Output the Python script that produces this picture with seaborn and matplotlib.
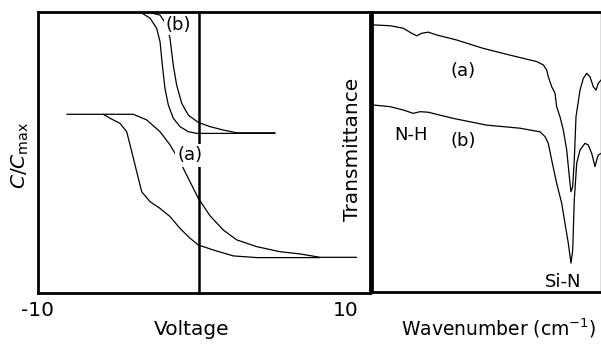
import matplotlib
matplotlib.use("Agg")
import matplotlib.pyplot as plt
import seaborn as sns
import pandas as pd

# ---- C-V curves (left panel) ----
b1_v = [-3.36, -2.71, -2.28, -2.06, -1.91, -1.74, -1.52, -1.20, -0.76, -0.22, 0.33, 5.42]
b1_c = [1.0, 0.978, 0.942, 0.894, 0.811, 0.728, 0.669, 0.622, 0.592, 0.574, 0.568, 0.568]
b2_v = [-2.93, -2.06, -1.63, -1.41, -1.20, -0.98, -0.65, -0.22, 0.43, 1.19, 2.06, 2.93, 5.42]
b2_c = [1.0, 0.989, 0.954, 0.906, 0.811, 0.740, 0.675, 0.633, 0.607, 0.592, 0.580, 0.570, 0.570]
a1_v = [-8.13, -3.80, -2.93, -2.06, -1.41, -0.76, -0.11, 0.43, 1.19, 2.06, 2.93, 4.23,
        5.74, 7.05, 8.35, 10.73]
a1_c = [0.636, 0.636, 0.616, 0.574, 0.527, 0.467, 0.396, 0.337, 0.275, 0.224, 0.189, 0.165,
        0.147, 0.139, 0.127, 0.127]
a2_v = [-5.75, -5.32, -4.67, -4.23, -3.90, -3.58, -3.25, -2.71, -2.06, -1.41, -0.76, -0.11,
        0.43, 1.41, 2.71, 4.23, 8.35]
a2_c = [0.636, 0.622, 0.604, 0.574, 0.503, 0.432, 0.360, 0.325, 0.301, 0.272, 0.230, 0.195,
        0.171, 0.153, 0.132, 0.126, 0.126]
volt_ticks = [-10, 10]
volt_tick_labels = ["-10", "10"]

# ---- IR spectra (right panel) ----
ira_wn = [3992, 3717, 3508, 3376, 3297, 3219, 3115, 2983, 2669, 2250, 1831, 1411, 1307, 1254,
          1229, 1202, 1175, 1123, 1097, 1045, 993, 939, 898, 872, 845, 820, 793, 730, 678,
          625, 573, 521, 479, 443, 400]
ira_t = [95.4, 95.1, 94.2, 92.4, 91.5, 92.4, 92.8, 91.8, 90.0, 87.0, 84.6, 82.3, 81.1, 79.3,
         76.9, 75.1, 73.3, 71.0, 66.2, 62.6, 57.9, 50.7, 41.2, 35.8, 37.6, 47.1, 62.6, 72.1,
         76.3, 78.1, 76.9, 73.3, 72.1, 74.5, 75.7]
irb_wn = [3992, 3717, 3508, 3351, 3245, 3115, 2722, 2197, 1673, 1359, 1280, 1229, 1175, 1097,
          1018, 966, 914, 872, 845, 820, 782, 730, 652, 600, 546, 494, 468, 443, 400]
irb_t = [66.8, 66.2, 65.0, 63.8, 64.4, 64.2, 62.0, 59.6, 58.5, 57.2, 55.5, 53.1, 47.1, 38.8,
         31.7, 24.5, 17.4, 10.3, 15.0, 32.9, 46.0, 50.7, 53.1, 52.5, 49.5, 44.8, 47.1, 48.9,
         49.5]

sns.set_style("white")
plt.rcParams["font.family"] = ["DejaVu Sans"]
plt.rcParams["text.color"] = "black"
plt.rcParams["axes.labelcolor"] = "black"
plt.rcParams["xtick.color"] = "black"
plt.rcParams["ytick.color"] = "black"
FS = 14.5
FL = 13

fig = plt.figure(figsize=(6.01, 3.44), dpi=100)
ax1 = fig.add_axes([38 / 601, 51 / 344, 332 / 601, 281 / 344])
ax2 = fig.add_axes([372 / 601, 52 / 344, 229 / 601, 280 / 344])

lk = dict(color="black", linewidth=0.9, sort=False, legend=False)
for v, c in [(b1_v, b1_c), (b2_v, b2_c), (a1_v, a1_c), (a2_v, a2_c)]:
    sns.lineplot(data=pd.DataFrame({"V": v, "C": c}), x="V", y="C", ax=ax1, **lk)
ax1.axvline(0.47, color="black", linewidth=1.8, zorder=1)
ax1.set_xlim(-10, 11.6)
ax1.set_ylim(0, 1.0)
ax1.set_xticks(volt_ticks)
ax1.set_xticklabels(volt_tick_labels, fontsize=FS, color="black")
ax1.tick_params(axis="x", length=0, pad=6)
ax1.set_yticks([])
ax1.set_xlabel("Voltage", fontsize=FS, color="black")
ax1.xaxis.set_label_coords(0.464, -0.095)
ax1.set_ylabel(r"$C/C_{\rm max}$", fontsize=FS, color="black")
ax1.yaxis.set_label_coords(-0.02, 0.49)
ax1.text(-0.85, 0.955, "(b)", fontsize=FL, ha="center", va="center", color="black",
         bbox=dict(facecolor="white", edgecolor="none", pad=1.0), zorder=3)
ax1.text(-0.1, 0.49, "(a)", fontsize=FL, ha="center", va="center", color="black",
         bbox=dict(facecolor="white", edgecolor="none", pad=2.0), zorder=3)

for w, t in [(ira_wn, ira_t), (irb_wn, irb_t)]:
    sns.lineplot(data=pd.DataFrame({"W": w, "T": t}), x="W", y="T", ax=ax2, **lk)
ax2.set_xlim(4000, 400)
ax2.set_ylim(0, 100)
ax2.set_xticks([])
ax2.set_yticks([])
ax2.set_xlabel("Wavenumber (cm$^{-1}$)", fontsize=13.5, color="black")
ax2.xaxis.set_label_coords(0.555, -0.086)
ax2.set_ylabel("Transmittance", fontsize=FS, color="black")
ax2.yaxis.set_label_coords(-0.045, 0.51)
ax2.text(2570, 79, "(a)", fontsize=FL, ha="center", va="center", color="black")
ax2.text(2570, 54, "(b)", fontsize=FL, ha="center", va="center", color="black")
ax2.text(3390, 56, "N-H", fontsize=FL, ha="center", va="center", color="black")
ax2.text(990, 3.5, "Si-N", fontsize=FL, ha="center", va="center", color="black")

for ax in (ax1, ax2):
    for s in ax.spines.values():
        s.set_linewidth(2.0)
        s.set_color("black")
ax2.spines["right"].set_linewidth(1.0)
ax2.spines["right"].set_color("#555555")

fig.savefig("out.png", dpi=100)
